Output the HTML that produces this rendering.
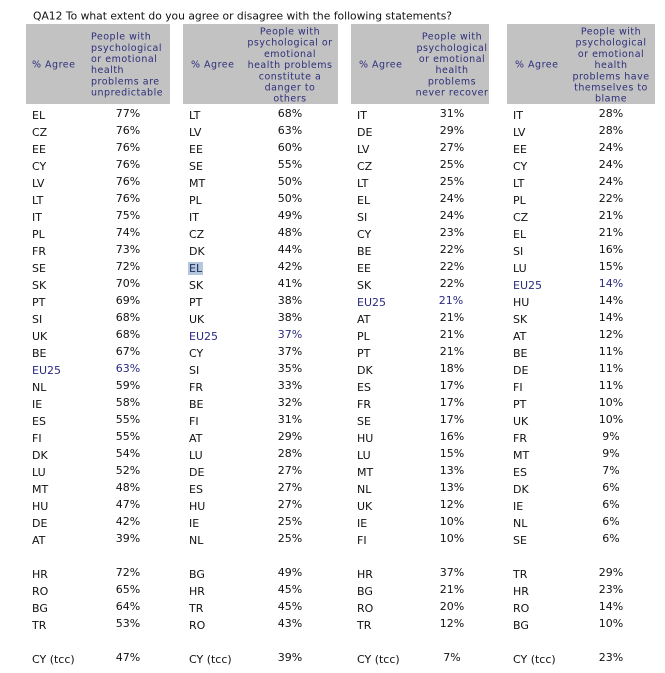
<!DOCTYPE html>
<html><head><meta charset="utf-8"><style>
html,body{margin:0;padding:0;background:#fff;}
svg{display:block;}
.t{font-family:"DejaVu Sans","Liberation Sans",sans-serif;}
.c{font-size:11px;fill:#111;}
.p{font-size:11px;fill:#111;text-anchor:middle;}
.eu{fill:#2a2a80;}
.h{font-size:9.5px;fill:#2e2e7a;letter-spacing:0.5px;}
.hm{text-anchor:middle;}
</style></head><body>
<svg width="665" height="673" viewBox="0 0 665 673" xmlns="http://www.w3.org/2000/svg" class="t">
<rect width="665" height="673" fill="#fff"/>
<text x="33" y="19.5" font-size="11" fill="#111" textLength="419" lengthAdjust="spacingAndGlyphs">QA12 To what extent do you agree or disagree with the following statements?</text>

<rect x="26" y="24" width="144" height="80" fill="#c2c2c2"/>
<rect x="183" y="24" width="155" height="80" fill="#c2c2c2"/>
<rect x="351" y="24" width="138" height="80" fill="#c2c2c2"/>
<rect x="507" y="24" width="148" height="80" fill="#c2c2c2"/>

<g class="h">
<text x="32" y="67.5">% Agree</text>
<text x="191" y="67.5">% Agree</text>
<text x="359" y="67.5">% Agree</text>
<text x="515" y="67.5">% Agree</text>
</g>
<g class="h">
<text x="91" y="39.6">People with</text>
<text x="91" y="50.8">psychological</text>
<text x="91" y="62">or emotional</text>
<text x="91" y="73.2">health</text>
<text x="91" y="84.4">problems are</text>
<text x="91" y="95.6">unpredictable</text>
</g>
<g class="h hm">
<text x="290" y="34.5">People with</text>
<text x="290" y="45.7">psychological or</text>
<text x="290" y="56.9">emotional</text>
<text x="290" y="68.1">health problems</text>
<text x="290" y="79.3">constitute a</text>
<text x="290" y="90.5">danger to</text>
<text x="290" y="101.7">others</text>
</g>
<g class="h hm">
<text x="452" y="39.6">People with</text>
<text x="452" y="50.8">psychological</text>
<text x="452" y="62">or emotional</text>
<text x="452" y="73.2">health</text>
<text x="452" y="84.4">problems</text>
<text x="452" y="95.6">never recover</text>
</g>
<g class="h hm">
<text x="611" y="34.5">People with</text>
<text x="611" y="45.7">psychological</text>
<text x="611" y="56.9">or emotional</text>
<text x="611" y="68.1">health</text>
<text x="611" y="79.3">problems have</text>
<text x="611" y="90.5">themselves to</text>
<text x="611" y="101.7">blame</text>
</g>

<rect x="188" y="262" width="15" height="13" fill="#b4c7dc"/>

<!-- Table 1 -->
<g class="c">
<text x="32" y="119">EL</text><text x="32" y="136">CZ</text><text x="32" y="153">EE</text><text x="32" y="170">CY</text><text x="32" y="187">LV</text><text x="32" y="204">LT</text><text x="32" y="221">IT</text><text x="32" y="238">PL</text><text x="32" y="255">FR</text><text x="32" y="272">SE</text><text x="32" y="289">SK</text><text x="32" y="306">PT</text><text x="32" y="323">SI</text><text x="32" y="340">UK</text><text x="32" y="357">BE</text><text x="32" y="374" class="eu">EU25</text><text x="32" y="391">NL</text><text x="32" y="408">IE</text><text x="32" y="425">ES</text><text x="32" y="442">FI</text><text x="32" y="459">DK</text><text x="32" y="476">LU</text><text x="32" y="493">MT</text><text x="32" y="510">HU</text><text x="32" y="527">DE</text><text x="32" y="544">AT</text>
<text x="32" y="578">HR</text><text x="32" y="595">RO</text><text x="32" y="612">BG</text><text x="32" y="629">TR</text>
<text x="32" y="663">CY (tcc)</text>
</g>
<g class="p">
<text x="128" y="117">77%</text><text x="128" y="134">76%</text><text x="128" y="151">76%</text><text x="128" y="168">76%</text><text x="128" y="185">76%</text><text x="128" y="202">76%</text><text x="128" y="219">75%</text><text x="128" y="236">74%</text><text x="128" y="253">73%</text><text x="128" y="270">72%</text><text x="128" y="287">70%</text><text x="128" y="304">69%</text><text x="128" y="321">68%</text><text x="128" y="338">68%</text><text x="128" y="355">67%</text><text x="128" y="372" class="eu">63%</text><text x="128" y="389">59%</text><text x="128" y="406">58%</text><text x="128" y="423">55%</text><text x="128" y="440">55%</text><text x="128" y="457">54%</text><text x="128" y="474">52%</text><text x="128" y="491">48%</text><text x="128" y="508">47%</text><text x="128" y="525">42%</text><text x="128" y="542">39%</text>
<text x="128" y="576">72%</text><text x="128" y="593">65%</text><text x="128" y="610">64%</text><text x="128" y="627">53%</text>
<text x="128" y="661">47%</text>
</g>

<!-- Table 2 -->
<g class="c">
<text x="189" y="119">LT</text><text x="189" y="136">LV</text><text x="189" y="153">EE</text><text x="189" y="170">SE</text><text x="189" y="187">MT</text><text x="189" y="204">PL</text><text x="189" y="221">IT</text><text x="189" y="238">CZ</text><text x="189" y="255">DK</text><text x="189" y="272" fill="#1c2a5a">EL</text><text x="189" y="289">SK</text><text x="189" y="306">PT</text><text x="189" y="323">UK</text><text x="189" y="340" class="eu">EU25</text><text x="189" y="357">CY</text><text x="189" y="374">SI</text><text x="189" y="391">FR</text><text x="189" y="408">BE</text><text x="189" y="425">FI</text><text x="189" y="442">AT</text><text x="189" y="459">LU</text><text x="189" y="476">DE</text><text x="189" y="493">ES</text><text x="189" y="510">HU</text><text x="189" y="527">IE</text><text x="189" y="544">NL</text>
<text x="189" y="578">BG</text><text x="189" y="595">HR</text><text x="189" y="612">TR</text><text x="189" y="629">RO</text>
<text x="189" y="663">CY (tcc)</text>
</g>
<g class="p">
<text x="290" y="117">68%</text><text x="290" y="134">63%</text><text x="290" y="151">60%</text><text x="290" y="168">55%</text><text x="290" y="185">50%</text><text x="290" y="202">50%</text><text x="290" y="219">49%</text><text x="290" y="236">48%</text><text x="290" y="253">44%</text><text x="290" y="270">42%</text><text x="290" y="287">41%</text><text x="290" y="304">38%</text><text x="290" y="321">38%</text><text x="290" y="338" class="eu">37%</text><text x="290" y="355">37%</text><text x="290" y="372">35%</text><text x="290" y="389">33%</text><text x="290" y="406">32%</text><text x="290" y="423">31%</text><text x="290" y="440">29%</text><text x="290" y="457">28%</text><text x="290" y="474">27%</text><text x="290" y="491">27%</text><text x="290" y="508">27%</text><text x="290" y="525">25%</text><text x="290" y="542">25%</text>
<text x="290" y="576">49%</text><text x="290" y="593">45%</text><text x="290" y="610">45%</text><text x="290" y="627">43%</text>
<text x="290" y="661">39%</text>
</g>

<!-- Table 3 -->
<g class="c">
<text x="357" y="119">IT</text><text x="357" y="136">DE</text><text x="357" y="153">LV</text><text x="357" y="170">CZ</text><text x="357" y="187">LT</text><text x="357" y="204">EL</text><text x="357" y="221">SI</text><text x="357" y="238">CY</text><text x="357" y="255">BE</text><text x="357" y="272">EE</text><text x="357" y="289">SK</text><text x="357" y="306" class="eu">EU25</text><text x="357" y="323">AT</text><text x="357" y="340">PL</text><text x="357" y="357">PT</text><text x="357" y="374">DK</text><text x="357" y="391">ES</text><text x="357" y="408">FR</text><text x="357" y="425">SE</text><text x="357" y="442">HU</text><text x="357" y="459">LU</text><text x="357" y="476">MT</text><text x="357" y="493">NL</text><text x="357" y="510">UK</text><text x="357" y="527">IE</text><text x="357" y="544">FI</text>
<text x="357" y="578">HR</text><text x="357" y="595">BG</text><text x="357" y="612">RO</text><text x="357" y="629">TR</text>
<text x="357" y="663">CY (tcc)</text>
</g>
<g class="p">
<text x="452" y="117">31%</text><text x="452" y="134">29%</text><text x="452" y="151">27%</text><text x="452" y="168">25%</text><text x="452" y="185">25%</text><text x="452" y="202">24%</text><text x="452" y="219">24%</text><text x="452" y="236">23%</text><text x="452" y="253">22%</text><text x="452" y="270">22%</text><text x="452" y="287">22%</text><text x="451" y="304" class="eu">21%</text><text x="452" y="321">21%</text><text x="452" y="338">21%</text><text x="452" y="355">21%</text><text x="452" y="372">18%</text><text x="452" y="389">17%</text><text x="452" y="406">17%</text><text x="452" y="423">17%</text><text x="452" y="440">16%</text><text x="452" y="457">15%</text><text x="452" y="474">13%</text><text x="452" y="491">13%</text><text x="452" y="508">12%</text><text x="452" y="525">10%</text><text x="452" y="542">10%</text>
<text x="452" y="576">37%</text><text x="452" y="593">21%</text><text x="452" y="610">20%</text><text x="452" y="627">12%</text>
<text x="452" y="661">7%</text>
</g>

<!-- Table 4 -->
<g class="c">
<text x="513" y="119">IT</text><text x="513" y="136">LV</text><text x="513" y="153">EE</text><text x="513" y="170">CY</text><text x="513" y="187">LT</text><text x="513" y="204">PL</text><text x="513" y="221">CZ</text><text x="513" y="238">EL</text><text x="513" y="255">SI</text><text x="513" y="272">LU</text><text x="513" y="289" class="eu">EU25</text><text x="513" y="306">HU</text><text x="513" y="323">SK</text><text x="513" y="340">AT</text><text x="513" y="357">BE</text><text x="513" y="374">DE</text><text x="513" y="391">FI</text><text x="513" y="408">PT</text><text x="513" y="425">UK</text><text x="513" y="442">FR</text><text x="513" y="459">MT</text><text x="513" y="476">ES</text><text x="513" y="493">DK</text><text x="513" y="510">IE</text><text x="513" y="527">NL</text><text x="513" y="544">SE</text>
<text x="513" y="578">TR</text><text x="513" y="595">HR</text><text x="513" y="612">RO</text><text x="513" y="629">BG</text>
<text x="513" y="663">CY (tcc)</text>
</g>
<g class="p">
<text x="611" y="117">28%</text><text x="611" y="134">28%</text><text x="611" y="151">24%</text><text x="611" y="168">24%</text><text x="611" y="185">24%</text><text x="611" y="202">22%</text><text x="611" y="219">21%</text><text x="611" y="236">21%</text><text x="611" y="253">16%</text><text x="611" y="270">15%</text><text x="611" y="287" class="eu">14%</text><text x="611" y="304">14%</text><text x="611" y="321">14%</text><text x="611" y="338">12%</text><text x="611" y="355">11%</text><text x="611" y="372">11%</text><text x="611" y="389">11%</text><text x="611" y="406">10%</text><text x="611" y="423">10%</text><text x="611" y="440">9%</text><text x="611" y="457">9%</text><text x="611" y="474">7%</text><text x="611" y="491">6%</text><text x="611" y="508">6%</text><text x="611" y="525">6%</text><text x="611" y="542">6%</text>
<text x="611" y="576">29%</text><text x="611" y="593">23%</text><text x="611" y="610">14%</text><text x="611" y="627">10%</text>
<text x="611" y="661">23%</text>
</g>
</svg>
</body></html>
